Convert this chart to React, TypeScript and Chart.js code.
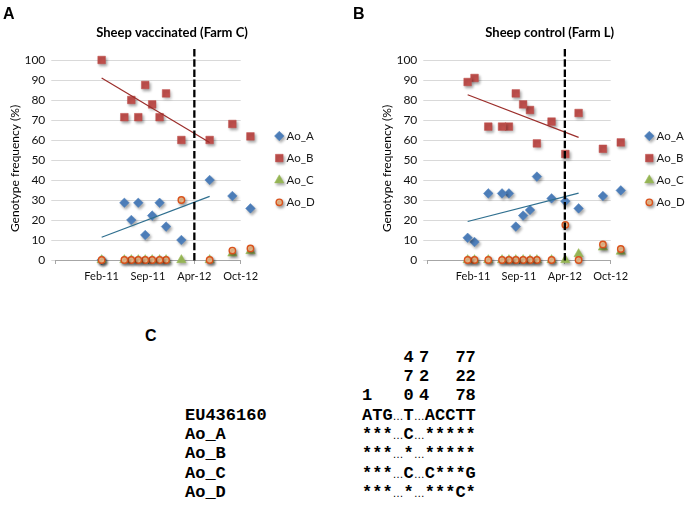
import React, { useEffect, useRef } from 'react';
import { Chart, registerables } from 'chart.js';
import { drawPoint } from 'chart.js/helpers';

Chart.register(...registerables);

const FONT = "Lato, 'Open Sans', sans-serif";

// ---------- data ----------
const X_TICK_LABELS = ['Feb-11', 'Sep-11', 'Apr-12', 'Oct-12']; // at x = 0,1,2,3
const SERIES_NAMES = ['Ao_A', 'Ao_B', 'Ao_C', 'Ao_D'];
const Y_TITLE = 'Genotype frequency (%)';
const DIVIDER_X = 2; // Apr-12

// Panel A – Sheep vaccinated (Farm C)
const A_TITLE = 'Sheep vaccinated (Farm C)';
const A_X = [0, 0.49, 0.64, 0.79, 0.94, 1.09, 1.25, 1.39, 1.72, 2.33, 2.82, 3.21];
const A_AO_A = [0, 28.6, 20, 28.6, 12.5, 22.2, 28.6, 16.7, 10, 40, 32, 25.8];
const A_AO_B = [100, 71.4, 80, 71.4, 87.5, 77.8, 71.4, 83.3, 60, 60, 68, 61.8];
const A_AO_C = [0, 0, 0, 0, 0, 0, 0, 0, 0, 0, 3.3, 4.5];
const A_AO_D = [0, 0, 0, 0, 0, 0, 0, 0, 30, 0, 4.7, 5.8];
const A_TREND_N = 10;

// Panel B – Sheep control (Farm L)
const B_TITLE = 'Sheep control (Farm L)';
const B_X = [-0.12, 0.03, 0.33, 0.63, 0.78, 0.93, 1.09, 1.24, 1.39, 1.71, 2.01, 2.3, 2.83, 3.22];
const B_AO_A = [11.1, 9, 33.3, 33.3, 33.3, 16.7, 22.2, 25, 41.7, 30.8, 29.4, 25.8, 32, 34.8];
const B_AO_B = [89, 91, 66.7, 66.7, 66.7, 83.3, 77.8, 75, 58.3, 69.2, 53, 73.5, 55.6, 58.8];
const B_AO_C = [0, 0, 0, 0, 0, 0, 0, 0, 0, 0, 0, 3, 6.3, 4.2];
const B_AO_D = [0, 0, 0, 0, 0, 0, 0, 0, 0, 0, 17.6, 0, 7.8, 5.5];
const B_TREND_N = 12;

// Panel C – alignment
const C_POSITIONS = [1, 470, 724, 727, 728];
const C_SEQ_NAMES = ['EU436160', 'Ao_A', 'Ao_B', 'Ao_C', 'Ao_D'];
const C_SEQ_START = ['ATG', '***', '***', '***', '***'];
const C_SEQ_470 = ['T', 'C', '*', 'C', '*'];
const C_SEQ_724 = ['ACCTT', '*****', '*****', 'C***G', '***C*'];

// ---------- styles ----------
const STYLE_A = { pointStyle: 'rectRot', pointRadius: 4.8, bg: '#4f81bd', border: '#4f81bd', bw: 0.5 };
const STYLE_B = { pointStyle: 'rect', pointRadius: 5.4, bg: '#c0504d', border: '#c0504d', bw: 0.5 };
const STYLE_C = { pointStyle: 'triangle', pointRadius: 5.4, bg: '#9bbb59', border: '#9bbb59', bw: 0.5 };
const STYLE_D = { pointStyle: 'circle', pointRadius: 3.2, bg: '#fbc896', border: '#d9521c', bw: 1.4 };
const SERIES_STYLES = [STYLE_A, STYLE_B, STYLE_C, STYLE_D];

function linearFit(xs: number[], ys: number[]) {
  const n = xs.length;
  const mx = xs.reduce((s, v) => s + v, 0) / n;
  const my = ys.reduce((s, v) => s + v, 0) / n;
  let sxy = 0;
  let sxx = 0;
  for (let i = 0; i < n; i++) {
    sxy += (xs[i] - mx) * (ys[i] - my);
    sxx += (xs[i] - mx) * (xs[i] - mx);
  }
  const slope = sxy / sxx;
  const b = my - slope * mx;
  return [
    { x: xs[0], y: b + slope * xs[0] },
    { x: xs[n - 1], y: b + slope * xs[n - 1] },
  ];
}

function buildDatasets(xs: number[], series: number[][], trendN: number) {
  // reversed so Chart.js does not trim points lying past the axis maximum
  const pts = (ys: number[]) => xs.map((x, i) => ({ x, y: ys[i] })).reverse();
  const orders = [4, 3, 2, 1];
  const sets: any[] = [
    {
      label: 'trend Ao_B',
      data: linearFit(xs.slice(0, trendN), series[1].slice(0, trendN)),
      showLine: true,
      borderColor: '#9b2d2a',
      borderWidth: 1.2,
      pointRadius: 0,
      pointHoverRadius: 0,
      order: 0,
      clip: false,
    },
    {
      label: 'trend Ao_A',
      data: linearFit(xs.slice(0, trendN), series[0].slice(0, trendN)),
      showLine: true,
      borderColor: '#2f6f8f',
      borderWidth: 1.2,
      pointRadius: 0,
      pointHoverRadius: 0,
      order: 0,
      clip: false,
    },
  ];
  series.forEach((ys, i) => {
    const st = SERIES_STYLES[i];
    sets.push({
      label: SERIES_NAMES[i],
      data: pts(ys),
      pointStyle: st.pointStyle,
      pointRadius: st.pointRadius,
      pointHoverRadius: st.pointRadius,
      pointBackgroundColor: st.bg,
      pointBorderColor: st.border,
      pointBorderWidth: st.bw,
      backgroundColor: st.bg,
      borderColor: st.border,
      order: orders[i],
      clip: false,
      shadow: true,
      legend: true,
    });
  });
  return sets;
}

// Excel draws markers that lie a little past the axis end; widen the area
// used for the point visibility test while datasets are drawn.
const overflowPlugin = {
  id: 'overflowPoints',
  beforeDatasetsDraw(chart: any) {
    chart.$origArea = chart.chartArea;
    chart.chartArea = { ...chart.chartArea, right: chart.chartArea.right + 40 };
  },
  afterDatasetsDraw(chart: any) {
    if (chart.$origArea) chart.chartArea = chart.$origArea;
  },
};

const shadowPlugin = {
  id: 'markerShadow',
  beforeDatasetDraw(chart: any, args: any) {
    const ds = chart.data.datasets[args.index];
    if (ds.shadow) {
      const ctx = chart.ctx;
      ctx.save();
      ctx.shadowColor = 'rgba(0,0,0,0.35)';
      ctx.shadowBlur = 3;
      ctx.shadowOffsetX = 1.5;
      ctx.shadowOffsetY = 2;
    }
  },
  afterDatasetDraw(chart: any, args: any) {
    const ds = chart.data.datasets[args.index];
    if (ds.shadow) chart.ctx.restore();
  },
};

const decorPlugin = {
  id: 'decor',
  afterDraw(chart: any, _args: any, opts: any) {
    const { ctx, chartArea, scales } = chart;
    ctx.save();
    // dashed divider
    const dx = scales.x.getPixelForValue(opts.dividerX);
    ctx.setLineDash([7.5, 2.7]);
    ctx.lineWidth = 2.3;
    ctx.strokeStyle = '#000';
    ctx.beginPath();
    ctx.moveTo(dx, chartArea.top - 11);
    ctx.lineTo(dx, chartArea.bottom + 1);
    ctx.stroke();
    ctx.setLineDash([]);
    // title
    ctx.fillStyle = '#000';
    ctx.font = `bold 13px ${FONT}`;
    ctx.textAlign = 'center';
    ctx.textBaseline = 'middle';
    ctx.fillText(opts.title, opts.titleX, opts.titleY);
    // y title
    ctx.save();
    ctx.translate(opts.yTitleX, opts.yTitleY);
    ctx.rotate(-Math.PI / 2);
    ctx.font = `12px ${FONT}`;
    ctx.fillText(opts.yTitle, 0, 0);
    ctx.restore();
    // legend
    const items = chart.data.datasets.filter((d: any) => d.legend);
    items.forEach((d: any, i: number) => {
      const y = opts.legendY + i * opts.legendStep;
      ctx.save();
      ctx.shadowColor = 'rgba(0,0,0,0.35)';
      ctx.shadowBlur = 3;
      ctx.shadowOffsetX = 1.5;
      ctx.shadowOffsetY = 2;
      ctx.fillStyle = d.pointBackgroundColor;
      ctx.strokeStyle = d.pointBorderColor;
      ctx.lineWidth = d.pointBorderWidth;
      drawPoint(ctx, { pointStyle: d.pointStyle, radius: d.pointRadius, rotation: 0, borderWidth: d.pointBorderWidth } as any, opts.legendMarkerX, y);
      ctx.restore();
      ctx.fillStyle = '#1a1a1a';
      ctx.font = `11.5px ${FONT}`;
      ctx.textAlign = 'left';
      ctx.textBaseline = 'middle';
      ctx.fillText(d.label, opts.legendTextX, y);
    });
    ctx.restore();
  },
};

function buildConfig(p: any) {
  return {
    type: 'scatter',
    data: { datasets: buildDatasets(p.xs, p.series, p.trendN) },
    plugins: [overflowPlugin, shadowPlugin, decorPlugin],
    options: {
      responsive: false,
      animation: false,
      events: [],
      layout: { padding: p.padding },
      plugins: {
        legend: { display: false },
        title: { display: false },
        tooltip: { enabled: false },
        decor: {
          title: p.title,
          titleX: p.titleX,
          titleY: 33,
          yTitle: Y_TITLE,
          yTitleX: p.yTitleX,
          yTitleY: 168.5,
          dividerX: DIVIDER_X,
          legendMarkerX: p.legendMarkerX,
          legendTextX: p.legendTextX,
          legendY: 136,
          legendStep: 22.1,
        },
      },
      scales: {
        x: {
          type: 'linear',
          min: -1,
          max: 3,
          ticks: {
            stepSize: 1,
            autoSkip: false,
            maxRotation: 0,
            padding: 6,
            color: '#111',
            font: { size: 11, family: FONT },
            callback: (v: number) => {
              const i = Math.round(v);
              return i >= 0 && i < X_TICK_LABELS.length ? X_TICK_LABELS[i] : '';
            },
          },
          grid: { drawOnChartArea: false, drawTicks: true, tickLength: 4, color: '#a6a6a6' },
          border: { display: true, color: '#a6a6a6', width: 1 },
          afterFit: (s: any) => {
            s.height = 30;
          },
        },
        y: {
          type: 'linear',
          min: 0,
          max: 100,
          ticks: { stepSize: 10, padding: 6, color: '#111', font: { size: 12, family: FONT } },
          grid: { color: '#d9d9d9', drawTicks: true, tickLength: 4 },
          border: { display: false },
          afterFit: (s: any) => {
            s.width = 40;
          },
        },
      },
    },
  };
}

const PANEL_A = {
  xs: A_X,
  series: [A_AO_A, A_AO_B, A_AO_C, A_AO_D],
  trendN: A_TREND_N,
  title: A_TITLE,
  titleX: 172,
  yTitleX: 15,
  legendMarkerX: 279.3,
  legendTextX: 286.5,
  padding: { left: 15.3, right: 99.3, top: 60, bottom: 10 },
};

const PANEL_B = {
  xs: B_X,
  series: [B_AO_A, B_AO_B, B_AO_C, B_AO_D],
  trendN: B_TREND_N,
  title: B_TITLE,
  titleX: 209.7,
  yTitleX: 46.7,
  legendMarkerX: 309.3,
  legendTextX: 316.5,
  padding: { left: 47.3, right: 76.3, top: 60, bottom: 10 },
};

function ScatterPanel({ panel, left, width }: { panel: any; left: number; width: number }) {
  const ref = useRef<HTMLCanvasElement>(null);
  useEffect(() => {
    if (!ref.current) return;
    const chart = new Chart(ref.current, buildConfig(panel) as any);
    return () => chart.destroy();
  }, []);
  return (
    <canvas
      ref={ref}
      width={width}
      height={300}
      style={{ position: 'absolute', left, top: 0, width, height: 300 }}
    />
  );
}

const MONO = "'Liberation Mono', 'Courier New', monospace";
const ROW0 = 357.7;
const ROW_STEP = 19.33;
const C_LEFT = 362;
const C_COL_X = [0, 41.6, 57, 93.4, 103.6];

function Ellipsis() {
  return (
    <span
      style={{
        display: 'inline-block',
        width: 11,
        textAlign: 'center',
        fontFamily: "'Liberation Sans', Arial, sans-serif",
        fontWeight: 400,
        fontSize: 11,
      }}
    >
      …
    </span>
  );
}

function PanelC() {
  const rowStyle = (i: number, left: number): React.CSSProperties => ({
    position: 'absolute',
    left,
    top: ROW0 + i * ROW_STEP - 10,
    height: 20,
    lineHeight: '20px',
    fontFamily: MONO,
    fontWeight: 700,
    fontSize: 17,
    whiteSpace: 'pre',
    color: '#000',
  });
  const digitRows = [0, 1, 2];
  return (
    <>
      {digitRows.map((r) =>
        C_POSITIONS.map((p, k) => {
          const s = String(p).padStart(3, ' ');
          const ch = s[r];
          if (ch === ' ') return null;
          return (
            <div key={`d${r}-${k}`} style={rowStyle(r, C_LEFT + C_COL_X[k])}>
              {ch}
            </div>
          );
        })
      )}
      {C_SEQ_NAMES.map((name, i) => (
        <React.Fragment key={name}>
          <div style={rowStyle(3 + i, 185)}>{name}</div>
          <div style={rowStyle(3 + i, C_LEFT)}>
            {C_SEQ_START[i]}
            <Ellipsis />
            {C_SEQ_470[i]}
            <Ellipsis />
            {C_SEQ_724[i]}
          </div>
        </React.Fragment>
      ))}
    </>
  );
}

const letterStyle = (left: number, top: number): React.CSSProperties => ({
  position: 'absolute',
  left,
  top,
  fontFamily: "'Liberation Sans', Arial, sans-serif",
  fontWeight: 700,
  fontSize: 16,
  lineHeight: 1,
  color: '#000',
});

export default function App() {
  return (
    <div
      style={{
        position: 'absolute',
        left: 0,
        top: 0,
        width: 687,
        height: 511,
        background: '#fff',
        overflow: 'hidden',
      }}
    >
      <ScatterPanel panel={PANEL_A} left={0} width={340} />
      <ScatterPanel panel={PANEL_B} left={340} width={347} />
      <div style={letterStyle(3, 6)}>A</div>
      <div style={letterStyle(353, 6)}>B</div>
      <div style={letterStyle(145, 328)}>C</div>
      <PanelC />
    </div>
  );
}
